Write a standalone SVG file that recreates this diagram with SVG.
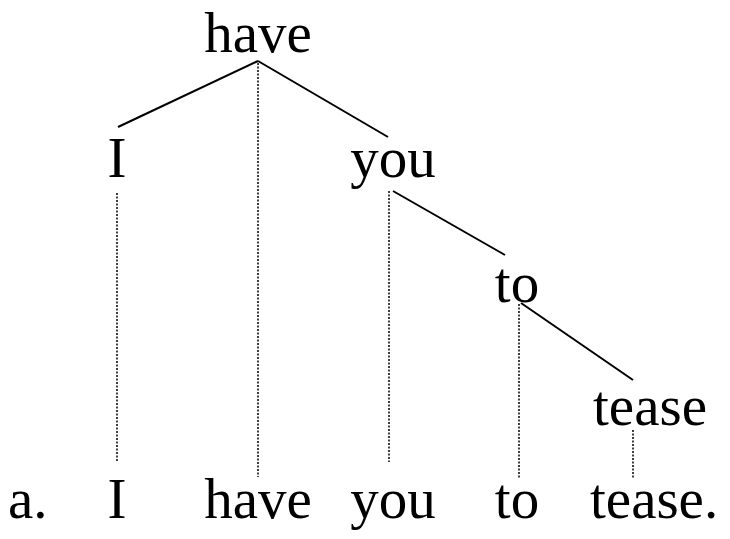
<svg xmlns="http://www.w3.org/2000/svg" width="730" height="539" viewBox="0 0 730 539">
<style>
text{font-family:"Liberation Serif","Times New Roman",serif;font-size:57px;fill:#000}
.m{text-anchor:middle}
.s{stroke:#000;stroke-width:2;fill:none}
.d{stroke:#000;stroke-width:1.5;stroke-dasharray:2 1.5;fill:none}
</style>
<rect width="730" height="539" fill="#fff"/>
<g id="connectors">
<line class="s" x1="258" y1="61" x2="118" y2="127"/>
<line class="s" x1="258" y1="61" x2="388" y2="137"/>
<line class="s" x1="393" y1="191" x2="505" y2="255"/>
<line class="s" x1="521" y1="303" x2="633" y2="380"/>
<line class="d" x1="258" y1="63" x2="258" y2="477"/>
<line class="d" x1="117" y1="193" x2="117" y2="462"/>
<line class="d" x1="389" y1="191" x2="389" y2="462"/>
<line class="d" x1="519" y1="304" x2="519" y2="478"/>
<line class="d" x1="633" y1="430" x2="633" y2="478"/>
</g>
<g id="node-have"><text class="m" x="258" y="52">have</text></g>
<g id="node-I"><text class="m" x="117" y="177">I</text></g>
<g id="node-you"><text class="m" x="393" y="177">you</text></g>
<g id="node-to"><text class="m" x="517" y="302">to</text></g>
<g id="node-tease"><text class="m" x="650" y="425">tease</text></g>
<g id="sentence">
<text x="8" y="518">a.</text>
<text class="m" x="117" y="518">I</text>
<text class="m" x="258" y="518">have</text>
<text class="m" x="393" y="518">you</text>
<text class="m" x="517" y="518">to</text>
<text x="590" y="518">tease.</text>
</g>
</svg>
